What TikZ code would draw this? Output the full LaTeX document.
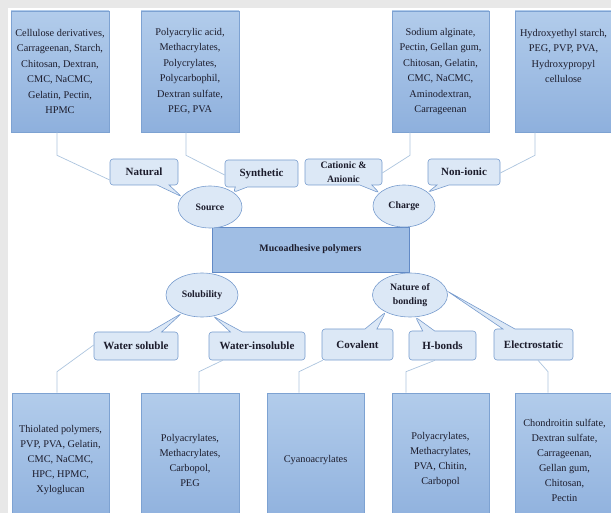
\documentclass[tikz,border=0pt]{standalone}
\usepackage{fontspec}
\setmainfont{Liberation Serif}
\usetikzlibrary{shapes.geometric,shapes.callouts}

\definecolor{boxtop}{RGB}{178,204,235}
\definecolor{boxbot}{RGB}{142,176,221}
\definecolor{boxline}{RGB}{125,162,210}
\definecolor{callfill}{RGB}{220,232,246}
\definecolor{callline}{RGB}{120,156,206}
\definecolor{mainfill}{RGB}{160,190,228}
\definecolor{mainline}{RGB}{98,138,198}
\definecolor{txt}{RGB}{28,28,44}
\definecolor{connc}{RGB}{172,196,222}
\definecolor{framec}{RGB}{232,232,232}

\begin{document}
\begin{tikzpicture}[x=1pt,y=-1pt,
  tbox/.style={draw=boxline, line width=0.6pt, top color=boxtop, bottom color=boxbot,
    inner sep=0pt, text=txt, align=center, font=\fontsize{10.3}{15}\selectfont},
  boxtext/.style={inner sep=0pt, text=txt, align=center, font=\fontsize{10.3}{15.5}\selectfont},
  cbox/.style={rectangle callout, draw=callline, fill=callfill, line width=0.6pt,
    rounded corners=3pt, callout pointer width=12pt, inner sep=0pt, text=txt,
    align=center, font=\fontsize{11}{13}\selectfont\bfseries},
  ell/.style={ellipse, draw=callline, fill=callfill, line width=0.6pt, inner sep=0pt,
    text=txt, align=center, font=\fontsize{9.8}{14}\selectfont\bfseries},
  mainbox/.style={draw=mainline, fill=mainfill, line width=0.7pt, inner sep=0pt,
    text=txt, font=\fontsize{9.9}{12}\selectfont\bfseries},
  connline/.style={draw=connc, line width=0.7pt}
]
\useasboundingbox (0,0) rectangle (611,513);
\fill[framec] (0,0) rectangle (611,8);
\fill[framec] (0,0) rectangle (8,513);

% top boxes
\node[tbox, minimum width=98, minimum height=121] (tA) at (60,71.5) {};
\node[tbox, minimum width=98, minimum height=121] (tB) at (190,71.5) {};
\node[tbox, minimum width=97, minimum height=121] (tC) at (440.5,71.5) {};
\node[tbox, minimum width=99, minimum height=121] (tD) at (564.5,71.5) {};
\node[boxtext, anchor=north] (tAt) at ([yshift=-18pt]tA.north) {Cellulose derivatives,\\Carrageenan, Starch,\\Chitosan, Dextran,\\CMC, NaCMC,\\Gelatin, Pectin,\\HPMC};
\node[boxtext, anchor=north] (tBt) at ([yshift=-17pt]tB.north) {Polyacrylic acid,\\Methacrylates,\\Polycrylates,\\Polycarbophil,\\Dextran sulfate,\\PEG, PVA};
\node[boxtext, anchor=north] (tCt) at ([yshift=-17pt]tC.north) {Sodium alginate,\\Pectin, Gellan gum,\\Chitosan, Gelatin,\\CMC, NaCMC,\\Aminodextran,\\Carrageenan};
\node[boxtext, anchor=north] (tDt) at ([yshift=-18pt,xshift=-1pt]tD.north) {Hydroxyethyl starch,\\PEG, PVP, PVA,\\Hydroxypropyl\\cellulose};

% central box and ellipses
\node[mainbox, minimum width=197, minimum height=45] (main) at (310.5,249.5) {Mucoadhesive polymers};
\node[ell, minimum width=64, minimum height=42] (source) at (210,207) {Source};
\node[ell, minimum width=62, minimum height=42] (charge) at (404,206) {Charge};
\node[ell, minimum width=72, minimum height=44] (solub) at (202,295) {Solubility};
\node[ell, minimum width=75, minimum height=44] (nature) at (410,295) {Nature of\\bonding};

% top callouts
\node[cbox, minimum width=68, minimum height=26, callout absolute pointer={(source.160)}] (natural) at (144,172) {Natural};
\node[cbox, minimum width=73, minimum height=27, callout absolute pointer={(source.32)}] (synth) at (261.5,173.5) {Synthetic};
\node[cbox, minimum width=77, minimum height=26, callout absolute pointer={(charge.152)},
  font=\fontsize{9.8}{14}\selectfont\bfseries] (cation) at (343.5,172) {Cationic \&\\Anionic};
\node[cbox, minimum width=72, minimum height=26, callout absolute pointer={(charge.30)}] (nonion) at (464,172) {Non-ionic};

% bottom callouts
\node[cbox, minimum width=84, minimum height=28, callout absolute pointer={(solub.222)}] (wsol) at (136,346) {Water soluble};
\node[cbox, minimum width=96, minimum height=28, callout absolute pointer={(solub.298)}] (winsol) at (257,346) {Water-insoluble};
\node[cbox, minimum width=71, minimum height=31, callout absolute pointer={(nature.215)}] (coval) at (357.5,344.5) {Covalent};
\node[cbox, minimum width=67, minimum height=29, callout absolute pointer={(nature.284)}] (hbond) at (442.5,345.5) {H-bonds};
\node[cbox, minimum width=79, minimum height=31, callout absolute pointer={(nature.6)}] (elec) at (533.5,344.5) {Electrostatic};

% bottom boxes
\node[tbox, minimum width=97, minimum height=134] (bA) at (60.5,460) {Thiolated polymers,\\PVP, PVA, Gelatin,\\CMC, NaCMC,\\HPC, HPMC,\\Xyloglucan};
\node[tbox, minimum width=98, minimum height=134] (bB) at (190,460) {Polyacrylates,\\Methacrylates,\\Carbopol,\\PEG};
\node[tbox, minimum width=97, minimum height=134] (bC) at (315.5,460) {Cyanoacrylates};
\node[tbox, minimum width=97, minimum height=134] (bD) at (440.5,460) {Polyacrylates,\\Methacrylates,\\PVA, Chitin,\\Carbopol};
\node[tbox, minimum width=99, minimum height=134] (bE) at (564.5,460) {Chondroitin sulfate,\\Dextran sulfate,\\Carrageenan,\\Gellan gum,\\Chitosan,\\Pectin};

% connectors top
\draw[connline] ([xshift=-3pt]tA.south) -- ++(0,23) -- ([yshift=-8pt]natural.west);
\draw[connline] ([xshift=-4pt]tB.south) -- ++(0,23) -- ([yshift=-1.5pt]synth.west);
\draw[connline] ([xshift=-30.5pt]tC.south) -- ++(0,23) -- ([yshift=-1pt]cation.east);
\draw[connline] ([xshift=-29.5pt]tD.south) -- ++(0,23) -- ([yshift=-1pt]nonion.east);

% connectors bottom
\draw[connline] ([xshift=-3.5pt]bA.north) -- ++(0,-21) -- ([yshift=1pt]wsol.west);
\draw[connline] ([xshift=9pt]bB.north) -- ++(0,-21) -- ([xshift=14pt]winsol.south west);
\draw[connline] ([xshift=-16.5pt]bC.north) -- ++(0,-21) -- ([xshift=1pt]coval.south west);
\draw[connline] ([xshift=-34.5pt]bD.north) -- ++(0,-21) -- ([xshift=-7.5pt]hbond.south);
\draw[connline] ([xshift=-16.5pt]bE.north) -- ++(0,-21) -- ([xshift=4.5pt]elec.south);
\end{tikzpicture}
\end{document}
